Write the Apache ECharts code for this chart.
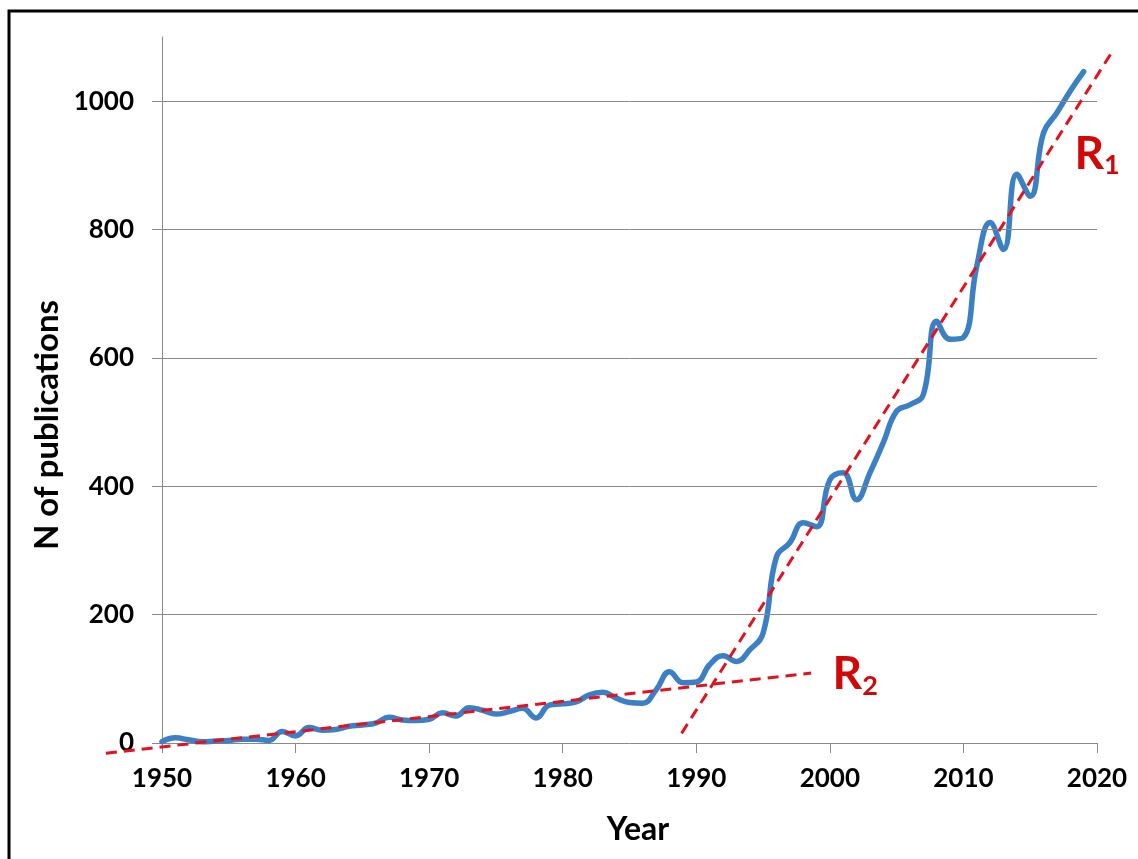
<!DOCTYPE html>
<html>
<head>
<meta charset="utf-8">
<script src="https://cdn.jsdelivr.net/npm/echarts@6/dist/echarts.min.js"></script>
<style>
html,body{margin:0;padding:0;background:#fff;}
#c{width:1138px;height:859px;}
</style>
</head>
<body>
<div id="c"></div>
<script>
// ---- data ----
const years = [1950,1951,1952,1953,1954,1955,1956,1957,1958,1959,
  1960,1961,1962,1963,1964,1965,1966,1967,1968,1969,
  1970,1971,1972,1973,1974,1975,1976,1977,1978,1979,
  1980,1981,1982,1983,1984,1985,1986,1987,1988,1989,
  1990,1991,1992,1993,1994,1995,1996,1997,1998,1999,
  2000,2001,2002,2003,2004,2005,2006,2007,2008,2009,
  2010,2011,2012,2013,2014,2015,2016,2017,2018,2019];
const publications = [2,8,5,2,3,4,6,6,4,18,
  11,24,20,21,26,28,31,40,36,35,
  37,47,42,55,51,45,49,54,39,59,
  61,64,75,79,70,63,62,83,111,94,
  95,122,136,127,145,171,290,312,343,337,
  410,421,379,421,468,517,527,543,657,629,
  632,743,811,769,886,852,951,982,1016,1046];
const trendR1 = [[1988.9, 15], [2021.1, 1076]];
const trendR2 = [[1945.8, -16], [1998.6, 109]];
const labelR1 = [[2020, 916]];
const labelR2 = [[2001.9, 105]];
const xTicks = [1950,1960,1970,1980,1990,2000,2010,2020];
const yTicks = [0,200,400,600,800,1000];

const FONT = 'Lato, "Open Sans", sans-serif';
const RED_LINE = '#e3121e';
const RED_TXT = '#d10808';
const GRAY = '#8a8a8a';

const chart = echarts.init(document.getElementById('c'));
const richLabel = (sub) => ({
  show: true,
  position: 'inside',
  formatter: '{r|R}{s|' + sub + '}',
  rich: {
    r: {fontFamily: FONT, fontWeight: 'bold', fontSize: 46, lineHeight: 48, padding: [0, 0, 14, 0],
      color: RED_TXT, verticalAlign: 'top'},
    s: {fontFamily: FONT, fontWeight: 'bold', fontSize: 27, lineHeight: 27, color: RED_TXT, verticalAlign: 'bottom'}
  }
});

const baseGraphic = [
  {id: 'frame', type: 'rect', z: 100, silent: true,
    shape: {x: 9, y: 11, width: 1300, height: 1000},
    style: {fill: 'none', stroke: '#000', lineWidth: 3}},
  {id: 'ytitle', type: 'text', x: 47, y: 425, rotation: Math.PI / 2, z: 100,
    style: {text: 'N of publications', fontFamily: FONT, fontWeight: 'bold', fontSize: 33,
      fill: '#000', align: 'center', verticalAlign: 'middle'}},
  {id: 'xtitle', type: 'text', x: 638, y: 830, z: 100,
    style: {text: 'Year', fontFamily: FONT, fontWeight: 'bold', fontSize: 32,
      fill: '#000', align: 'center', verticalAlign: 'middle'}}
];

chart.setOption({
  animation: false,
  backgroundColor: '#fff',
  grid: {left: 162, right: 41, top: 37, bottom: 116, containLabel: false, outerBoundsMode: 'none'},
  xAxis: {
    type: 'value', min: 1950, max: 2020, interval: 10,
    axisLine: {show: true, lineStyle: {color: GRAY, width: 1}},
    axisTick: {show: true, length: 10, lineStyle: {color: GRAY, width: 1}},
    splitLine: {show: false},
    axisLabel: {margin: 23, color: '#000', fontFamily: FONT, fontWeight: 'bold', fontSize: 26,
      customValues: xTicks, formatter: v => String(v)}
  },
  yAxis: {
    type: 'value', min: 0, max: 1100, interval: 100,
    axisLine: {show: true, lineStyle: {color: GRAY, width: 1}},
    axisTick: {show: true, length: 10, lineStyle: {color: GRAY, width: 1}, customValues: yTicks},
    splitLine: {show: false},
    axisLabel: {margin: 28, color: '#000', fontFamily: FONT, fontWeight: 'bold', fontSize: 26,
      customValues: yTicks, formatter: v => String(v)}
  },
  graphic: baseGraphic,
  series: [
    {
      name: 'grid', type: 'line', data: years.map((y, i) => [y, publications[i]]),
      showSymbol: false, lineStyle: {width: 0, opacity: 0}, silent: true, z: 1,
      markLine: {
        silent: true, symbol: 'none', label: {show: false},
        lineStyle: {color: GRAY, width: 1, type: 'solid'},
        data: yTicks.filter(v => v > 0).map(v => ({yAxis: v}))
      }
    },
    {
      name: 'Publications', type: 'line', z: 3,
      data: years.map((y, i) => [y, publications[i]]),
      smooth: 0.45, showSymbol: false,
      lineStyle: {color: '#3b7fc4', width: 5.5, cap: 'round', join: 'round'}
    },
    {
      name: 'R1 label', type: 'scatter', z: 5, data: labelR1, clip: false,
      symbolSize: 1, itemStyle: {color: 'rgba(0,0,0,0)', opacity: 1}, label: richLabel('1'), silent: true
    },
    {
      name: 'R2 label', type: 'scatter', z: 5, data: labelR2, clip: false,
      symbolSize: 1, itemStyle: {color: 'rgba(0,0,0,0)', opacity: 1}, label: richLabel('2'), silent: true
    }
  ]
});

// Trend lines drawn through the chart's own scales (extending past the plot area)
const toPx = pts => pts.map(d => chart.convertToPixel({gridIndex: 0}, d));
const trendGraphic = [trendR1, trendR2].map((t, i) => ({
  id: 'trend' + i, type: 'polyline', z: 50, silent: true,
  shape: {points: toPx(t)},
  style: {fill: 'none', stroke: RED_LINE, lineWidth: 3, lineDash: [11, 7]}
}));
chart.setOption({graphic: baseGraphic.concat(trendGraphic)});
</script>
</body>
</html>
